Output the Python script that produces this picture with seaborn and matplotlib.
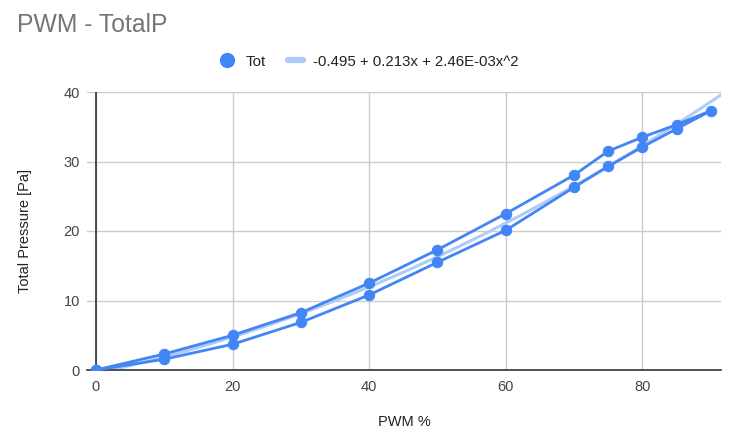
import numpy as np
import pandas as pd
import matplotlib
matplotlib.use("Agg")
import matplotlib.pyplot as plt
import seaborn as sns
from matplotlib.lines import Line2D

pwm = [0, 10, 20, 30, 40, 50, 60, 70, 75, 80, 85, 90,
       85, 80, 75, 70, 60, 50, 40, 30, 20, 10, 0]
tot = [0.0, 2.3, 5.0, 8.25, 12.5, 17.3, 22.5, 28.05, 31.5, 33.5, 35.3, 37.3,
       34.7, 32.1, 29.3, 26.3, 20.1, 15.5, 10.8, 6.85, 3.7, 1.55, 0.0]
coef = [-0.495, 0.213, 2.46e-03]
trend_label = "-0.495 + 0.213x + 2.46E-03x^2"
xticks = [0, 20, 40, 60, 80]
yticks = [0, 10, 20, 30, 40]

sns.set_theme(style="white")
plt.rcParams['font.family'] = ['Liberation Sans', 'DejaVu Sans']

df = pd.DataFrame({"PWM": pwm, "Tot": tot})

W, H = 733, 445
fig = plt.figure(figsize=(W / 100, H / 100), dpi=100)
ax = fig.add_axes([87 / W, 1 - 370 / H, (721 - 87) / W, (370 - 92) / H])

blue = "#4285F4"
light = "#AFCBFA"

xs = np.linspace(-1.3, 91.5, 200)
ys = coef[0] + coef[1] * xs + coef[2] * xs ** 2
sns.lineplot(x=xs, y=ys, ax=ax, color=light, lw=2.2, zorder=2)
sns.lineplot(data=df, x="PWM", y="Tot", sort=False, estimator=None, ax=ax,
             color=blue, lw=2, marker="o", markersize=7.5,
             markeredgecolor=blue, zorder=3)

ax.set_xlim(-1.3, 91.5)
ax.set_ylim(0, 40)
ax.set_xticks(xticks)
ax.set_yticks(yticks)
ax.grid(True, color="#CCCCCC", lw=1)
ax.set_axisbelow(True)
for s in ["top", "right", "left"]:
    ax.spines[s].set_visible(False)
ax.spines["bottom"].set_color("#333333")
ax.spines["bottom"].set_linewidth(1.2)
ax.axvline(0, color="#333333", lw=1.2, zorder=1.5)
ax.tick_params(axis="both", length=0, labelsize=10.5, labelcolor="#444444")
ax.tick_params(axis="x", pad=7)
ax.tick_params(axis="y", pad=5)

ax.set_xlabel("PWM %", fontsize=10.5, color="#222222", labelpad=15)
ax.set_ylabel("Total Pressure [Pa]", fontsize=10.5, color="#222222", labelpad=23)

fig.text(17 / W, 1 - 25 / H, "PWM - TotalP", fontsize=17.8, color="#757575",
         va="center", ha="left")

handles = [
    Line2D([], [], color=blue, marker="o", lw=0, markersize=10),
    Line2D([], [], color=light, lw=4.5),
]
fig.legend(handles, ["Tot", trend_label], loc="center", bbox_to_anchor=(0.504, 1 - 61.5 / H),
           ncol=2, frameon=False, fontsize=10.8, handlelength=1.0, columnspacing=1.5,
           handletextpad=0.7, labelcolor="#222222")

fig.savefig("out.png", dpi=100)
